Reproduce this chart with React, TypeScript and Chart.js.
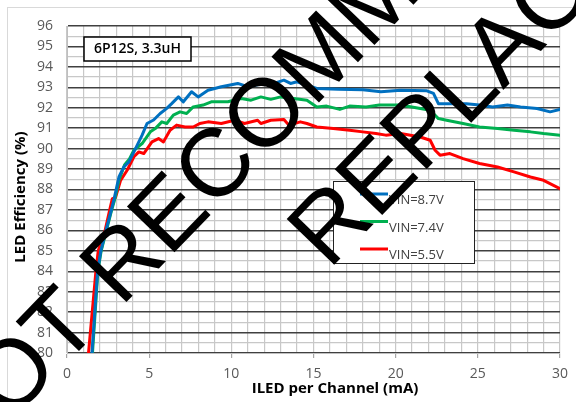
import React, { useEffect, useRef } from "react";
import { Chart, registerables } from "chart.js";

Chart.register(...registerables);

// ---- Data ----
const seriesLabels = ["VIN=8.7V", "VIN=7.4V", "VIN=5.5V"];
const seriesColors = ["#0070C0", "#00B050", "#FF0000"];

const blueX = [1.43, 1.52, 1.86, 2.06, 2.37, 2.7, 2.87, 3.16, 3.46, 3.77, 4.17, 4.57, 4.87, 5.27, 5.67, 6.07, 6.37, 6.78, 7.08, 7.58, 7.98, 8.58, 9.39, 10.39, 11.0, 11.8, 12.6, 13.2, 13.6, 14.0, 14.6, 15.2, 16.5, 18.0, 19.1, 20.3, 21.9, 22.3, 22.6, 23.1, 24.3, 25.1, 25.9, 26.8, 27.6, 28.6, 29.4, 30.0];
const blueY = [79, 80, 84, 85, 86, 87, 87.55, 88.61, 89.1, 89.35, 90.0, 90.66, 91.23, 91.4, 91.72, 91.97, 92.2, 92.53, 92.29, 92.78, 92.53, 92.86, 93.03, 93.19, 93.03, 93.16, 93.19, 93.35, 93.19, 93.27, 93.1, 92.94, 92.9, 92.88, 92.78, 92.86, 92.83, 92.7, 92.2, 92.2, 92.2, 92.13, 92.04, 92.13, 92.04, 91.96, 91.8, 91.92];

const greenX = [1.46, 1.55, 1.88, 2.08, 2.4, 2.72, 2.9, 3.16, 3.5, 3.8, 4.07, 4.57, 5.07, 5.37, 5.77, 6.07, 6.47, 6.88, 7.28, 7.68, 8.28, 8.78, 9.79, 10.6, 11.2, 11.8, 12.4, 13.0, 13.8, 14.6, 15.2, 15.8, 16.6, 17.2, 18.2, 19.0, 20.3, 21.5, 22.1, 22.6, 23.1, 24.1, 25.1, 26.2, 27.2, 28.2, 29.0, 30.0];
const greenY = [79, 80, 84, 85, 86, 87, 87.5, 88.45, 89.2, 89.5, 89.92, 90.25, 90.82, 90.98, 91.31, 91.23, 91.64, 91.8, 91.72, 92.04, 92.13, 92.29, 92.29, 92.45, 92.37, 92.53, 92.41, 92.53, 92.45, 92.37, 92.04, 92.08, 91.92, 92.08, 92.04, 92.13, 92.13, 91.96, 91.88, 91.47, 91.39, 91.23, 91.06, 90.98, 90.9, 90.82, 90.74, 90.66];

const redX = [1.2, 1.31, 1.76, 1.9, 2.32, 2.6, 2.76, 2.95, 3.26, 3.66, 4.07, 4.37, 4.67, 5.17, 5.57, 5.87, 6.27, 6.67, 7.18, 7.68, 8.08, 8.58, 9.39, 10.2, 10.8, 11.6, 11.8, 12.4, 13.2, 13.5, 14.2, 14.6, 15.2, 16.2, 17.2, 18.0, 18.8, 19.4, 20.3, 21.5, 22.1, 22.4, 22.7, 23.3, 24.1, 25.1, 26.2, 27.2, 28.2, 29.0, 30.0];
const redY = [79, 80, 84, 85, 86, 87, 87.55, 87.6, 88.45, 88.94, 89.6, 89.84, 89.76, 90.33, 90.49, 90.33, 90.9, 91.15, 91.06, 91.06, 91.23, 91.31, 91.23, 91.39, 91.23, 91.39, 91.23, 91.39, 91.43, 91.15, 91.31, 91.23, 91.06, 90.98, 90.9, 90.82, 90.74, 90.66, 90.74, 90.57, 90.41, 89.92, 89.68, 89.76, 89.51, 89.27, 89.1, 88.86, 88.61, 88.45, 88.04];

const xMin = 0;
const xMax = 30;
const xLabelStep = 5;
const yMin = 80;
const yMax = 96;

const xTitle = "ILED per Channel (mA)";
const yTitle = "LED Efficiency (%)";
const annotationText = "6P12S, 3.3uH";
const watermarkLine1 = "NOT RECOMMENDED FOR NEW DESIGNS";
const watermarkLine2 = "REPLACEMENT";

const FONT = '"Open Sans", "Liberation Sans", sans-serif';

const toPoints = (xs: number[], ys: number[]) => xs.map((x, i) => ({ x, y: ys[i] }));

const decorPlugin = {
  id: "decor",
  beforeDraw(chart: any) {
    const ctx = chart.ctx as CanvasRenderingContext2D;
    ctx.save();
    ctx.fillStyle = "#ffffff";
    ctx.fillRect(0, 0, chart.width, chart.height);
    ctx.strokeStyle = "#d9d9d9";
    ctx.lineWidth = 1;
    ctx.strokeRect(7.5, 7.5, 800, 800);
    ctx.restore();
  },
  afterDatasetsDraw(chart: any) {
    const ctx = chart.ctx as CanvasRenderingContext2D;
    ctx.save();
    // axis titles
    ctx.fillStyle = "#000";
    ctx.font = `bold 15px ${FONT}`;
    ctx.textAlign = "center";
    ctx.textBaseline = "middle";
    ctx.fillText(xTitle, 335, 389);
    ctx.save();
    ctx.translate(21, 197);
    ctx.rotate(-Math.PI / 2);
    ctx.fillText(yTitle, 0, 0);
    ctx.restore();

    // annotation box
    ctx.fillStyle = "#fff";
    ctx.fillRect(84, 37, 107, 24);
    ctx.strokeStyle = "#000";
    ctx.lineWidth = 1.5;
    ctx.strokeRect(84, 37, 107, 24);
    ctx.fillStyle = "#000";
    ctx.font = `600 14px ${FONT}`;
    ctx.fillText(annotationText, 137.5, 49.5);

    // legend
    const lx = 333.5, ly = 181.5, lw = 141, lh = 82;
    ctx.fillStyle = "#fff";
    ctx.fillRect(lx, ly, lw, lh);
    ctx.strokeStyle = "#222";
    ctx.lineWidth = 1;
    ctx.strokeRect(lx, ly, lw, lh);
    chart.data.datasets.forEach((ds: any, i: number) => {
      const y = 194 + i * 27.5;
      ctx.strokeStyle = ds.borderColor;
      ctx.lineWidth = 3;
      ctx.beginPath();
      ctx.moveTo(360, y);
      ctx.lineTo(388, y);
      ctx.stroke();
      ctx.fillStyle = "#404040";
      ctx.font = `13px ${FONT}`;
      ctx.textAlign = "left";
      ctx.fillText(ds.label, 389, y + 6.5);
    });
    ctx.restore();
  },
  afterDraw(chart: any) {
    const ctx = chart.ctx as CanvasRenderingContext2D;
    const ang = (-46 * Math.PI) / 180;
    ctx.save();
    ctx.fillStyle = "#000";
    ctx.font = '96px "Liberation Sans", Arial, sans-serif';
    ctx.textAlign = "left";
    ctx.textBaseline = "alphabetic";
    ctx.save();
    ctx.translate(-38.4, 472.7);
    ctx.rotate(ang);
    ctx.fillText(watermarkLine1, 0, 0);
    ctx.restore();
    ctx.save();
    ctx.translate(328.7, 270.6);
    ctx.rotate(ang);
    ctx.fillText(watermarkLine2, 0, 0);
    ctx.restore();
    ctx.restore();
  },
};

export default function App() {
  const ref = useRef<HTMLCanvasElement>(null);
  useEffect(() => {
    document.body.style.margin = "0";
    const chart = new Chart(ref.current!, {
      type: "line",
      data: {
        datasets: [
          { label: seriesLabels[0], data: toPoints(blueX, blueY), borderColor: seriesColors[0] },
          { label: seriesLabels[1], data: toPoints(greenX, greenY), borderColor: seriesColors[1] },
          { label: seriesLabels[2], data: toPoints(redX, redY), borderColor: seriesColors[2] },
        ].map((d) => ({
          ...d,
          borderWidth: 3,
          pointRadius: 0,
          tension: 0,
          fill: false,
          borderJoinStyle: "round" as const,
          borderCapStyle: "round" as const,
        })),
      },
      options: {
        responsive: false,
        animation: false,
        layout: { padding: { top: 26, right: 11, left: 0, bottom: 0 } },
        plugins: { legend: { display: false }, tooltip: { enabled: false } },
        scales: {
          x: {
            type: "linear",
            min: xMin,
            max: xMax,
            afterFit: (s: any) => { s.height = 49; },
            border: { color: "#bfbfbf", width: 1 },
            grid: {
              color: "#c8c8c8",
              lineWidth: 1.2,
              tickLength: 5,
              tickColor: (c: any) => (c.tick && c.tick.value % xLabelStep === 0 ? "#a6a6a6" : "rgba(0,0,0,0)"),
            },
            ticks: {
              stepSize: 1,
              autoSkip: false,
              maxRotation: 0,
              padding: 8,
              color: "#595959",
              font: { family: FONT, size: 14 },
              callback: (v: any) => (Number(v) % xLabelStep === 0 ? String(v) : ""),
            },
          },
          y: {
            type: "linear",
            min: yMin,
            max: yMax,
            afterFit: (s: any) => { s.width = 67; },
            border: { color: "#bfbfbf", width: 1 },
            grid: {
              drawTicks: false,
              color: (c: any) => (c.tick && Number.isInteger(c.tick.value) ? "#404040" : "#c8c8c8"),
              lineWidth: (c: any) => (c.tick && Number.isInteger(c.tick.value) ? 1.5 : 1.2),
            },
            ticks: {
              stepSize: 0.5,
              autoSkip: false,
              padding: 14,
              color: "#595959",
              font: { family: FONT, size: 14 },
              callback: (v: any) => (Number.isInteger(Number(v)) ? String(v) : ""),
            },
          },
        },
      },
      plugins: [decorPlugin],
    });
    return () => chart.destroy();
  }, []);
  return (
    <div style={{ width: 576, height: 402 }}>
      <canvas ref={ref} width={576} height={402} style={{ display: "block" }} />
    </div>
  );
}
